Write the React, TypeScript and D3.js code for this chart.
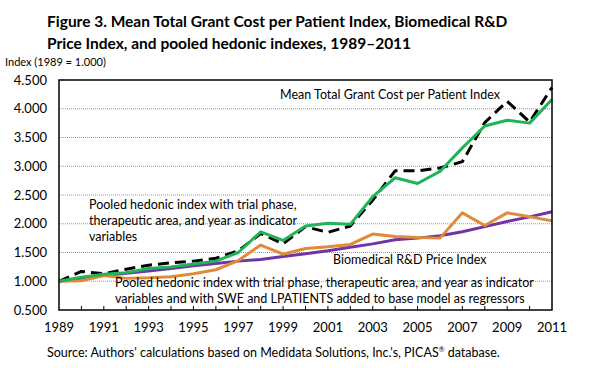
import React from 'react';
import * as d3 from 'd3';

const years = d3.range(1989, 2012);
const yTicks = [0.5, 1.0, 1.5, 2.0, 2.5, 3.0, 3.5, 4.0, 4.5];
const xLabels = [1989, 1991, 1993, 1995, 1997, 1999, 2001, 2003, 2005, 2007, 2009, 2011];

// Mean Total Grant Cost per Patient Index
const meanCost = [1.0, 1.17, 1.13, 1.21, 1.28, 1.32, 1.35, 1.4, 1.53, 1.83, 1.65, 1.95, 1.85, 1.96, 2.41, 2.92, 2.92, 2.97, 3.08, 3.76, 4.13, 3.77, 4.37];
// Pooled hedonic index (trial phase, therapeutic area, year)
const pooledBase = [1.0, 1.07, 1.12, 1.15, 1.22, 1.25, 1.3, 1.35, 1.5, 1.86, 1.71, 1.96, 2.01, 1.99, 2.47, 2.8, 2.7, 2.91, 3.32, 3.7, 3.8, 3.75, 4.16];
// Pooled hedonic index with SWE and LPATIENTS
const pooledSwe = [1.0, 1.01, 1.1, 1.05, 1.06, 1.08, 1.13, 1.2, 1.36, 1.63, 1.47, 1.57, 1.6, 1.64, 1.82, 1.78, 1.76, 1.75, 2.19, 1.97, 2.19, 2.12, 2.05];
// Biomedical R&D Price Index
const biomedRD = [1.0, 1.05, 1.1, 1.14, 1.18, 1.22, 1.27, 1.31, 1.35, 1.38, 1.43, 1.48, 1.53, 1.59, 1.65, 1.72, 1.75, 1.79, 1.86, 1.95, 2.04, 2.12, 2.21];

const W = 598;
const H = 368;
const left = 59;
const right = 552;
const top = 80;
const bottom = 310;
const font = 'Lato, "Open Sans", sans-serif';

const App = () => {
  const x = d3.scaleLinear().domain([1989, 2011]).range([left, right]);
  const y = d3.scaleLinear().domain([0.5, 4.5]).range([bottom, top]);

  const line = d3
    .line<number>()
    .x((d, i) => x(years[i]))
    .y((d) => y(d));

  const series = [
    { values: biomedRD, color: '#7034a4', dash: undefined },
    { values: pooledSwe, color: '#e08a3c', dash: undefined },
    { values: meanCost, color: '#000000', dash: '11,6' },
    { values: pooledBase, color: '#1fb457', dash: undefined },
  ];

  return (
    <div style={{ position: 'absolute', left: 0, top: 0 }}>
      <svg width={W} height={H} style={{ display: 'block', background: '#fff' }}>
        <text x={47} y={27} fontFamily={font} fontWeight="bold" fontSize={15.5}>
          Figure 3. Mean Total Grant Cost per Patient Index, Biomedical R&amp;D
        </text>
        <text x={47} y={49} fontFamily={font} fontWeight="bold" fontSize={15.5}>
          Price Index, and pooled hedonic indexes, 1989–2011
        </text>
        <text x={5} y={66} fontFamily={font} fontSize={11}>
          Index (1989 = 1.000)
        </text>

        {yTicks.slice(1, -1).map((t) => (
          <line key={t} x1={left} x2={right} y1={y(t)} y2={y(t)} stroke="#999" strokeWidth={1} strokeDasharray="1,1" />
        ))}
        {yTicks.map((t) => (
          <text key={t} x={47} y={y(t) + 4.5} textAnchor="end" fontFamily={font} fontSize={13}>
            {d3.format('.3f')(t)}
          </text>
        ))}

        {years.slice(1, -1).map((yr) => (
          <line key={yr} x1={x(yr)} x2={x(yr)} y1={bottom} y2={bottom - 4} stroke="#000" strokeWidth={1} />
        ))}
        {xLabels.map((yr) => (
          <text key={yr} x={x(yr)} y={332} textAnchor="middle" fontFamily={font} fontSize={13}>
            {yr}
          </text>
        ))}

        {series.map((s, i) => (
          <path
            key={i}
            d={line(s.values) || ''}
            fill="none"
            stroke={s.color}
            strokeWidth={3}
            strokeDasharray={s.dash}
            strokeLinejoin="round"
          />
        ))}

        <rect x={left} y={top} width={right - left} height={bottom - top} fill="none" stroke="#000" strokeWidth={1.5} />

        <g fontFamily={font} fontSize={12.5}>
          <text x={280} y={99}>Mean Total Grant Cost per Patient Index</text>
          <text x={89} y={209}>Pooled hedonic index with trial phase,</text>
          <text x={89} y={225}>therapeutic area, and year as indicator</text>
          <text x={89} y={241}>variables</text>
          <text x={333} y={264}>Biomedical R&amp;D Price Index</text>
          <text x={115} y={287}>Pooled hedonic index with trial phase, therapeutic area, and year as indicator</text>
          <text x={115} y={303}>variables and with SWE and LPATIENTS added to base model as regressors</text>
        </g>

        <text x={47} y={357} fontFamily={font} fontSize={12.5}>
          Source: Authors' calculations based on Medidata Solutions, Inc.'s, PICAS
          <tspan dy={-5} fontSize={7}>®</tspan>
          <tspan dy={5}> database.</tspan>
        </text>
      </svg>
    </div>
  );
};

export default App;
